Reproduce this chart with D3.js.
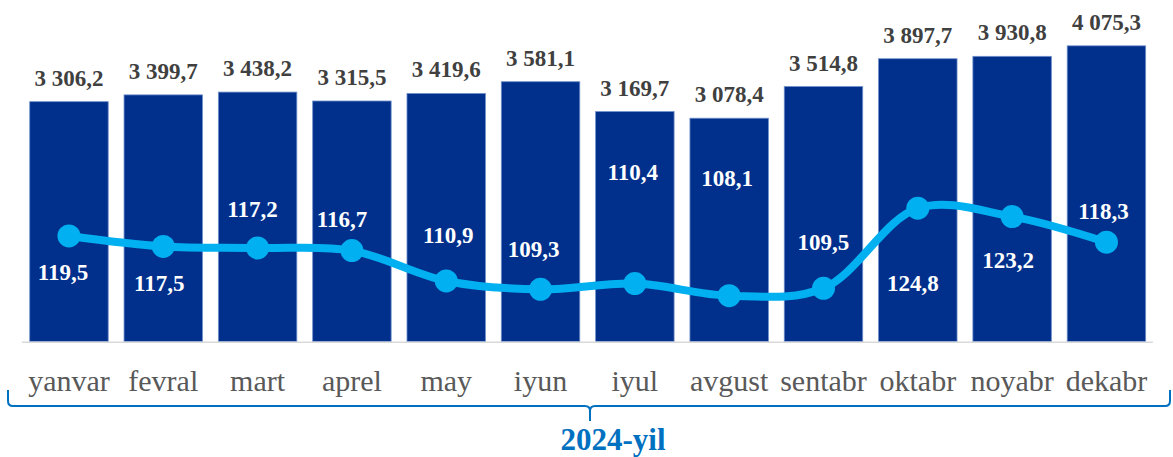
<!DOCTYPE html>
<html>
<head>
<meta charset="utf-8">
<script src="https://cdn.jsdelivr.net/npm/d3@7"></script>
<style>
	body { margin: 0; background: #fff; }
	svg { display: block; }
</style>
</head>
<body>
<svg id="chart" width="1173" height="457"></svg>
<script>
var months = ["yanvar", "fevral", "mart", "aprel", "may", "iyun", "iyul", "avgust", "sentabr", "oktabr", "noyabr", "dekabr"];
var volumes = [3306.2, 3399.7, 3438.2, 3315.5, 3419.6, 3581.1, 3169.7, 3078.4, 3514.8, 3897.7, 3930.8, 4075.3];
var growth = [119.5, 117.5, 117.2, 116.7, 110.9, 109.3, 110.4, 108.1, 109.5, 124.8, 123.2, 118.3];
var periodLabel = "2024-yil";

// where each line label sits relative to its point (from the original layout)
var growthLabelDx = [-6, -4, -5, -10, 2, -7, -2, -2, 0, -5, -4, -3];
var growthLabelDy = [44, 45, -31, -24, -38, -32, -104, -110, -38, 83, 51, -23];

function drawChart() {
	var svg = d3.select("#chart");

	var baseY = 341.7;
	var topY = 15;

	var locale = d3.formatLocale({decimal: ",", thousands: "\u00a0", grouping: [3], currency: ["", ""]});
	var fmtVol = locale.format(",.1f");
	var fmtPct = locale.format(".1f");

	var x = d3.scaleBand()
		.domain(months)
		.range([21.8, 1153.6])
		.paddingInner(0.168)
		.paddingOuter(0.084);

	var yBar = d3.scaleLinear()
		.domain([0, 4500])
		.range([baseY, topY]);

	var yLine = d3.scaleLinear()
		.domain([99.3, 161.7])
		.range([baseY, topY]);

	var cx = (d) => x(d) + x.bandwidth() / 2;

	// bars
	svg.selectAll(".bar")
		.data(months)
	.enter().append("rect")
		.attr("class", "bar")
		.attr("x", (d) => x(d))
		.attr("y", (d, i) => yBar(volumes[i]))
		.attr("width", x.bandwidth())
		.attr("height", (d, i) => baseY - yBar(volumes[i]))
		.style("fill", "#00308c")
		.style("stroke", "#6f8fcc")
		.style("stroke-width", 0.8);

	// baseline
	svg.append("line")
		.attr("x1", 22)
		.attr("x2", 1153)
		.attr("y1", baseY + 0.5)
		.attr("y2", baseY + 0.5)
		.style("stroke", "#d9d9d9")
		.style("stroke-width", 1.5);

	// bar value labels
	svg.selectAll(".barLabel")
		.data(months)
	.enter().append("text")
		.attr("class", "barLabel")
		.attr("x", (d) => cx(d))
		.attr("y", (d, i) => yBar(volumes[i]) - 16)
		.attr("text-anchor", "middle")
		.style("font-family", "'Liberation Serif', 'Times New Roman', serif")
		.style("font-weight", "bold")
		.style("font-size", "23px")
		.style("fill", "#404040")
		.text((d, i) => fmtVol(volumes[i]));

	// growth line
	var line = d3.line()
		.x((d, i) => cx(months[i]))
		.y((d) => yLine(d))
		.curve(d3.curveCatmullRom.alpha(0.5));

	svg.append("path")
		.datum(growth)
		.attr("d", line)
		.style("fill", "none")
		.style("stroke", "#00b0f0")
		.style("stroke-width", 8)
		.style("stroke-linecap", "round");

	svg.selectAll(".dot")
		.data(growth)
	.enter().append("circle")
		.attr("class", "dot")
		.attr("cx", (d, i) => cx(months[i]))
		.attr("cy", (d) => yLine(d))
		.attr("r", 11.5)
		.style("fill", "#00b0f0");

	svg.selectAll(".lineLabel")
		.data(growth)
	.enter().append("text")
		.attr("class", "lineLabel")
		.attr("x", (d, i) => cx(months[i]) + growthLabelDx[i])
		.attr("y", (d, i) => yLine(d) + growthLabelDy[i])
		.attr("text-anchor", "middle")
		.style("font-family", "'Liberation Serif', 'Times New Roman', serif")
		.style("font-weight", "bold")
		.style("font-size", "23px")
		.style("fill", "#ffffff")
		.text((d) => fmtPct(d));

	// month labels
	svg.selectAll(".monthLabel")
		.data(months)
	.enter().append("text")
		.attr("class", "monthLabel")
		.attr("x", (d) => cx(d))
		.attr("y", 391)
		.attr("text-anchor", "middle")
		.style("font-family", "'Liberation Serif', 'Times New Roman', serif")
		.style("font-size", "30px")
		.style("fill", "#595959")
		.text((d) => d);

	// brace under the months
	var braceY = 406;
	var tipX = 590;
	var brace = d3.path();
	brace.moveTo(8, 390);
	brace.lineTo(8, braceY - 5);
	brace.quadraticCurveTo(8, braceY, 13, braceY);
	brace.lineTo(tipX - 5, braceY);
	brace.quadraticCurveTo(tipX, braceY, tipX, braceY + 5);
	brace.lineTo(tipX, 421);
	brace.moveTo(tipX, braceY + 5);
	brace.quadraticCurveTo(tipX, braceY, tipX + 5, braceY);
	brace.lineTo(1165, braceY);
	brace.quadraticCurveTo(1170, braceY, 1170, braceY - 5);
	brace.lineTo(1170, 390);

	svg.append("path")
		.attr("d", brace.toString())
		.style("fill", "none")
		.style("stroke", "#0070c0")
		.style("stroke-width", 2);

	svg.append("text")
		.attr("x", 613)
		.attr("y", 450)
		.attr("text-anchor", "middle")
		.style("font-family", "'Liberation Serif', 'Times New Roman', serif")
		.style("font-weight", "bold")
		.style("font-size", "31px")
		.style("fill", "#0070c0")
		.text(periodLabel);
}

drawChart();
</script>
</body>
</html>
